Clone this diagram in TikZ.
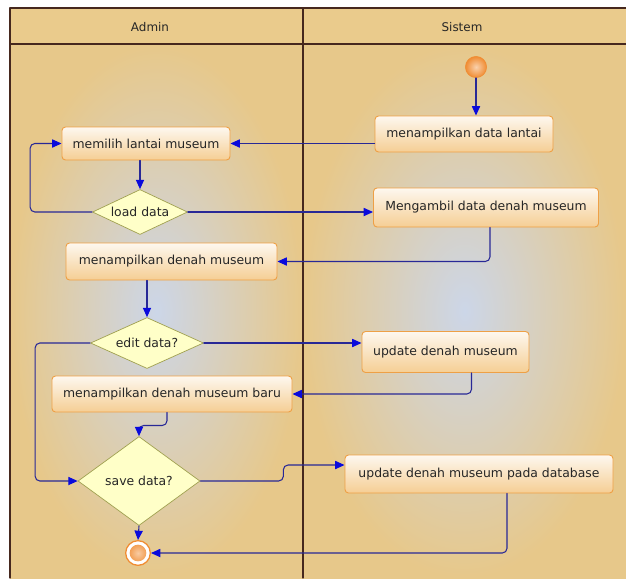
\documentclass[tikz,border=0pt]{standalone}
\usepackage{fontspec}
\setmainfont{DejaVu Sans}
\usetikzlibrary{arrows.meta, calc, shapes.geometric, positioning}
\definecolor{lanetan}{RGB}{231,200,138}
\definecolor{laneblue}{RGB}{204,214,232}
\definecolor{headtan}{RGB}{234,203,140}
\definecolor{framebrown}{RGB}{70,40,30}
\definecolor{actorange}{RGB}{238,160,70}
\definecolor{actfill}{RGB}{245,206,148}
\definecolor{decfill}{RGB}{255,255,200}
\definecolor{decolive}{RGB}{160,160,80}
\definecolor{flownavy}{RGB}{40,40,150}
\definecolor{tipblue}{RGB}{10,10,220}
\definecolor{ballorange}{RGB}{240,140,50}

\tikzset{
  act/.style={draw=actorange, line width=0.8pt, rounded corners=3pt, top color=white!85!actfill,
    bottom color=actfill, text=black!85, font=\fontsize{10.6}{12}\selectfont, inner sep=0pt},
  dec/.style={diamond, draw=decolive, line width=0.6pt, fill=decfill, inner sep=0pt,
    aspect=2, text=black!85, font=\fontsize{10.6}{12}\selectfont},
  flow/.style={->, flownavy, line width=0.9pt, rounded corners=4pt},
  lanetitle/.style={text=black!85, font=\fontsize{10.2}{12}\selectfont},
}

\begin{document}
\begin{tikzpicture}[x=0.03cm, y=-0.03cm, line cap=round, line join=round,
    >={Triangle[width=7pt,length=8pt,color=tipblue]}]
    \useasboundingbox (0,0) rectangle (626,578);

    % swimlanes
    \fill[headtan] (10,8) rectangle (626,44);
    \shade[inner color=laneblue, outer color=lanetan] (10,44) rectangle (303,578);
    \shade[inner color=laneblue, outer color=lanetan] (303,44) rectangle (626,578);
    \draw[framebrown, line width=0.9pt] (626,8) -- (10,8) -- (10,578);
    \draw[framebrown, line width=0.9pt] (10,44) -- (626,44);
    \draw[framebrown, line width=0.9pt] (303,8) -- (303,578);
    \node[lanetitle] (admin) at (150,27) {Admin};
    \node[lanetitle] (sistem) at (462,27) {Sistem};

    % start and end
    \node[circle, minimum size=0.64cm, inner sep=0pt, draw=ballorange,
      inner color=white!60!ballorange, outer color=ballorange] (start) at (476,67) {};
    \node[circle, minimum size=0.74cm, inner sep=0pt, draw=ballorange, line width=1.1pt, fill=white,
      path picture={\shade[inner color=white!55!ballorange, outer color=ballorange]
        (path picture bounding box.center) circle (0.25cm);}] (end) at (138,553) {};

    % activities
    \node[act, minimum width=5.34cm, minimum height=1.08cm] (lantai) at (464,134) {menampilkan data lantai};
    \node[act, minimum width=5.04cm, minimum height=0.99cm] (memilih) at (146,143.5) {memilih lantai museum};
    \node[act, minimum width=6.75cm, minimum height=1.17cm] (ambil) at (486,207.5) {Mengambil data denah museum};
    \node[act, minimum width=6.33cm, minimum height=1.11cm] (denah) at (171.5,261.5) {menampilkan denah museum};
    \node[act, minimum width=5.01cm, minimum height=1.23cm] (update) at (445.5,352) {update denah museum};
    \node[act, minimum width=7.2cm, minimum height=1.08cm] (baru) at (172,394) {menampilkan denah museum baru};
    \node[act, minimum width=8.04cm, minimum height=1.14cm] (db) at (479,474) {update denah museum pada database};

    % decisions
    \node[dec, minimum width=2.85cm, minimum height=1.35cm] (load) at (140,212) {load data};
    \node[dec, minimum width=3.39cm, minimum height=1.53cm] (edit) at (147,343) {edit data?};
    \node[dec, minimum width=3.66cm, minimum height=2.67cm] (save) at (139,481) {save data?};

    % flows
    \draw[flow] (start) -- (start |- lantai.north);
    \draw[flow] (memilih.east -| lantai.west) -- (memilih.east);
    \draw[flow] (memilih.south -| load.north) -- (load.north);
    \draw[flow] (load.west) -- ++(-62,0) |- (memilih.west);
    \draw[flow] (load.east) -- (load.east -| ambil.west);
    \draw[flow] ($(ambil.south)+(4,0)$) |- (denah.east);
    \draw[flow] (denah.south -| edit.north) -- (edit.north);
    \draw[flow] (edit.east) -- (edit.east -| update.west);
    \draw[flow] (edit.west) -- ++(-55,0) |- (save.west);
    \draw[flow] ($(update.south)+(26,0)$) |- (baru.east);
    \draw[flow] ($(baru.south)+(-5,0)$) -- ++(0,13) -| (save.north);
    \draw[flow] (save.east) -- ++(83,0) |- ($(db.west)+(0,-9)$);
    \draw[flow] (save.south) -- (end.north);
    \draw[flow] ($(db.south)+(28,0)$) |- (end.east);
\end{tikzpicture}
\end{document}
